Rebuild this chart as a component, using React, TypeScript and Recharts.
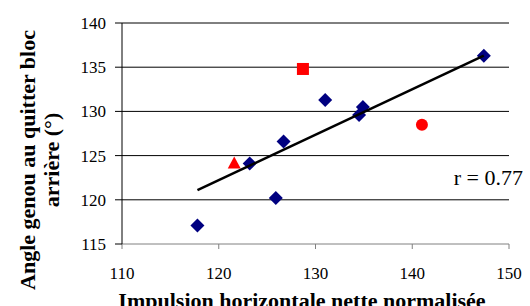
import React from "react";
import { ScatterChart, Scatter, XAxis, YAxis, ReferenceLine, Label } from "recharts";

// blue diamonds
const diamondX = [117.8, 123.2, 125.9, 126.7, 131.0, 134.5, 134.9, 147.4];
const diamondY = [117.1, 124.1, 120.2, 126.6, 131.3, 129.6, 130.5, 136.3];

// red single points
const squarePt = { x: 128.7, y: 134.8 };
const circlePt = { x: 141.0, y: 128.5 };
const trianglePt = { x: 121.6, y: 124.1 };

// trend line end points
const trendX = [117.8, 147.4];
const trendY = [121.1, 136.3];

const xTicks = [110, 120, 130, 140, 150];
const yTicks = [115, 120, 125, 130, 135, 140];
const gridLines = [120, 125, 130, 135, 140];

const diamonds = diamondX.map((x, i) => ({ x, y: diamondY[i] }));
const trend = trendX.map((x, i) => ({ x, y: trendY[i] }));

const serif = "Liberation Serif";
const NAVY = "#000080";
const RED = "#ff0000";

const Diamond = (p: any) => (
    <polygon
        points={`${p.cx},${p.cy - 7} ${p.cx + 7},${p.cy} ${p.cx},${p.cy + 7} ${p.cx - 7},${p.cy}`}
        fill={NAVY}
    />
);
const Square = (p: any) => <rect x={p.cx - 6} y={p.cy - 6} width={12} height={12} fill={RED} />;
const Circle = (p: any) => <circle cx={p.cx} cy={p.cy} r={6} fill={RED} />;
const Triangle = (p: any) => (
    <polygon points={`${p.cx},${p.cy - 7} ${p.cx + 6.5},${p.cy + 5} ${p.cx - 6.5},${p.cy + 5}`} fill={RED} />
);
const NoDot = () => <g />;

const XTick = ({ x, y, payload }: any) => (
    <text x={x} y={y} dy="0.71em" textAnchor="middle" fontFamily={serif} fontSize={17} fill="#000">
        {payload.value}
    </text>
);
const YTick = ({ x, y, payload }: any) => (
    <text x={x} y={y} dy="0.355em" textAnchor="end" fontFamily={serif} fontSize={17} fill="#000">
        {payload.value}
    </text>
);

const yLabel = () => (
    <g fontFamily={serif} fontWeight="bold" fontSize={22} fill="#000">
        <text x={27} y={160} textAnchor="middle" dominantBaseline="central" transform="rotate(-90, 27, 160)">
            Angle genou au quitter bloc
        </text>
        <text x={51} y={160} textAnchor="middle" dominantBaseline="central" transform="rotate(-90, 51, 160)">
            arrière (°)
        </text>
        <text x={523} y={185} textAnchor="end" fontWeight="normal" fontSize={22}>
            r = 0.77
        </text>
    </g>
);

const xLabel = () => (
    <text x={302} y={308} textAnchor="middle" fontFamily={serif} fontWeight="bold" fontSize={22} fill="#000">
        Impulsion horizontale nette normalisée
    </text>
);

export default function App() {
    return (
        <div style={{ position: "absolute", left: 0, top: 0, width: 530, height: 306, background: "#fff" }}>
            <ScatterChart width={530} height={306} margin={{ top: 23, right: 21, bottom: 22, left: 62 }}>
                {gridLines.map(v => (
                    <ReferenceLine key={v} y={v} stroke="#000" strokeWidth={1} />
                ))}
                <XAxis
                    type="number"
                    dataKey="x"
                    domain={[110, 150]}
                    ticks={xTicks}
                    height={40}
                    tickSize={5}
                    tickMargin={18}
                    axisLine={{ stroke: "#808080" }}
                    tickLine={{ stroke: "#808080" }}
                    tick={XTick}
                >
                    <Label content={xLabel} />
                </XAxis>
                <YAxis
                    type="number"
                    dataKey="y"
                    domain={[115, 140]}
                    ticks={yTicks}
                    width={60}
                    tickSize={7}
                    tickMargin={9}
                    axisLine={{ stroke: "#000" }}
                    tickLine={{ stroke: "#000" }}
                    tick={YTick}
                >
                    <Label content={yLabel} />
                </YAxis>
                <Scatter data={diamonds} shape={Diamond} isAnimationActive={false} />
                <Scatter data={[squarePt]} shape={Square} isAnimationActive={false} />
                <Scatter data={[circlePt]} shape={Circle} isAnimationActive={false} />
                <Scatter data={[trianglePt]} shape={Triangle} isAnimationActive={false} />
                <Scatter
                    data={trend}
                    shape={NoDot}
                    line={{ stroke: "#000", strokeWidth: 2.5 }}
                    isAnimationActive={false}
                />
            </ScatterChart>
        </div>
    );
}
